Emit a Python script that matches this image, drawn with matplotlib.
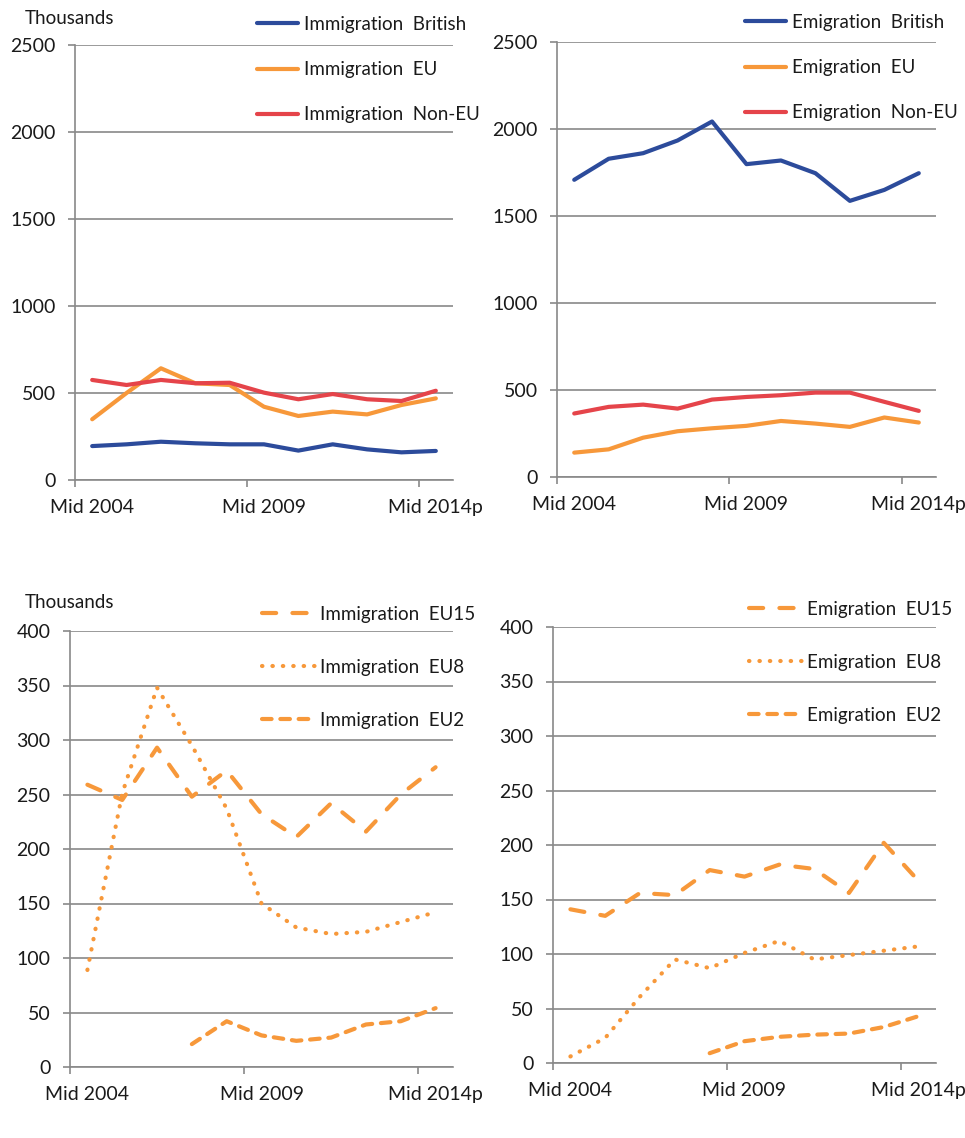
import numpy as np
import matplotlib.pyplot as plt

plt.rcParams['font.family'] = ['Lato', 'DejaVu Sans']

years = ['Mid 2004', 'Mid 2005', 'Mid 2006', 'Mid 2007', 'Mid 2008', 'Mid 2009',
         'Mid 2010', 'Mid 2011', 'Mid 2012', 'Mid 2013', 'Mid 2014p']
shown_labels = ['Mid 2004', 'Mid 2009', 'Mid 2014p']

# Thousands
imm_british = [195, 205, 220, 211, 205, 205, 169, 205, 176, 159, 167]
imm_eu = [349, 500, 642, 556, 546, 421, 368, 393, 377, 431, 469]
imm_non_eu = [575, 546, 575, 556, 559, 502, 464, 494, 464, 454, 513]

emi_british = [1708, 1829, 1861, 1934, 2043, 1798, 1819, 1746, 1587, 1650, 1746]
emi_eu = [140, 159, 226, 263, 280, 294, 322, 307, 288, 342, 313]
emi_non_eu = [365, 403, 416, 393, 445, 460, 470, 485, 485, 432, 380]

imm_eu15 = [259, 245, 293, 248, 272, 232, 211, 242, 216, 250, 275]
imm_eu8 = [89, 251, 348, 295, 237, 150, 128, 122, 124, 133, 142]
imm_eu2 = [np.nan, np.nan, np.nan, 21, 42, 29, 24, 27, 39, 42, 54]

emi_eu15 = [141, 135, 156, 154, 177, 171, 182, 178, 156, 202, 167]
emi_eu8 = [6, 23, 61, 95, 87, 101, 112, 95, 99, 103, 107]
emi_eu2 = [np.nan, np.nan, np.nan, np.nan, 9, 20, 24, 26, 27, 33, 43]

BLUE = '#2c4b9b'
ORANGE = '#f7983a'
RED = '#e5444a'
GREY = '#898989'
TXT = '#1a1a1a'

W, H = 965, 1138
fig = plt.figure(figsize=(W / 100, H / 100), dpi=100)


def make_axes(left, top, right, bottom, ymax, ystep):
    ax = fig.add_axes([left / W, 1 - bottom / H, (right - left) / W, (bottom - top) / H])
    x = np.arange(len(years))
    ax.set_xlim(-0.5, len(years) - 0.5)
    ax.set_ylim(0, ymax)
    ax.set_yticks(np.arange(0, ymax + 1, ystep))
    ax.set_xticks([0, 5, 10])
    ax.set_xticklabels(shown_labels)
    ax.set_xticks([-0.5, 4.5, 9.5], minor=True)
    ax.tick_params(axis='x', which='major', length=0, pad=14, labelsize=14, labelcolor=TXT)
    ax.tick_params(axis='x', which='minor', length=5, width=1.2, color=GREY, direction='out')
    ax.tick_params(axis='y', length=5, width=1.2, color=GREY, pad=9, labelsize=14, labelcolor=TXT)
    for s in ['top', 'right']:
        ax.spines[s].set_visible(False)
    for s in ['left', 'bottom']:
        ax.spines[s].set_color(GREY)
        ax.spines[s].set_linewidth(1.2)
    ax.grid(axis='y', color=GREY, linewidth=1.2)
    ax.set_axisbelow(True)
    return ax, x


def add_legend(ax, x0, y0, spacing, hl):
    ax.legend(loc='upper left', bbox_to_anchor=(x0 / W, 1 - y0 / H),
              bbox_transform=fig.transFigure, frameon=False, fontsize=13.5,
              handlelength=hl, handletextpad=0.3, borderpad=0, borderaxespad=0,
              labelspacing=spacing, labelcolor=TXT)


# top left: immigration
ax1, x = make_axes(75, 45, 453, 480, 2500, 500)
ax1.plot(x, imm_british, color=BLUE, lw=3, label='Immigration  British', solid_capstyle='round')
ax1.plot(x, imm_eu, color=ORANGE, lw=3, label='Immigration  EU', solid_capstyle='round')
ax1.plot(x, imm_non_eu, color=RED, lw=3, label='Immigration  Non-EU', solid_capstyle='round')
add_legend(ax1, 257, 16, 1.5, 2.2)
fig.text(25 / W, 1 - 18 / H, 'Thousands', fontsize=13.5, color=TXT, va='center')

# top right: emigration
ax2, x = make_axes(557, 42, 936, 477, 2500, 500)
ax2.plot(x, emi_british, color=BLUE, lw=3, label='Emigration  British', solid_capstyle='round')
ax2.plot(x, emi_eu, color=ORANGE, lw=3, label='Emigration  EU', solid_capstyle='round')
ax2.plot(x, emi_non_eu, color=RED, lw=3, label='Emigration  Non-EU', solid_capstyle='round')
add_legend(ax2, 745, 14, 1.5, 2.2)

long_dash = (0, (3.4, 3.9))
dots = (0, (0.1, 2.4))
short_dash = (0, (2.3, 2.1))

# bottom left: immigration EU breakdown
ax3, x = make_axes(70, 631, 453, 1067, 400, 50)
ax3.plot(x, imm_eu15, color=ORANGE, lw=3, ls=long_dash, dash_capstyle='round', label='Immigration  EU15')
ax3.plot(x, imm_eu8, color=ORANGE, lw=3, ls=dots, dash_capstyle='round', label='Immigration  EU8')
ax3.plot(x, imm_eu2, color=ORANGE, lw=3, ls=short_dash, dash_capstyle='round', label='Immigration  EU2')
add_legend(ax3, 262, 606, 1.92, 2.8)
fig.text(25 / W, 1 - 603 / H, 'Thousands', fontsize=13.5, color=TXT, va='center')

# bottom right: emigration EU breakdown
ax4, x = make_axes(553, 627, 936, 1063, 400, 50)
ax4.plot(x, emi_eu15, color=ORANGE, lw=3, ls=long_dash, dash_capstyle='round', label='Emigration  EU15')
ax4.plot(x, emi_eu8, color=ORANGE, lw=3, ls=dots, dash_capstyle='round', label='Emigration  EU8')
ax4.plot(x, emi_eu2, color=ORANGE, lw=3, ls=short_dash, dash_capstyle='round', label='Emigration  EU2')
add_legend(ax4, 749, 601, 1.92, 2.8)

fig.savefig('out.png', dpi=100)
